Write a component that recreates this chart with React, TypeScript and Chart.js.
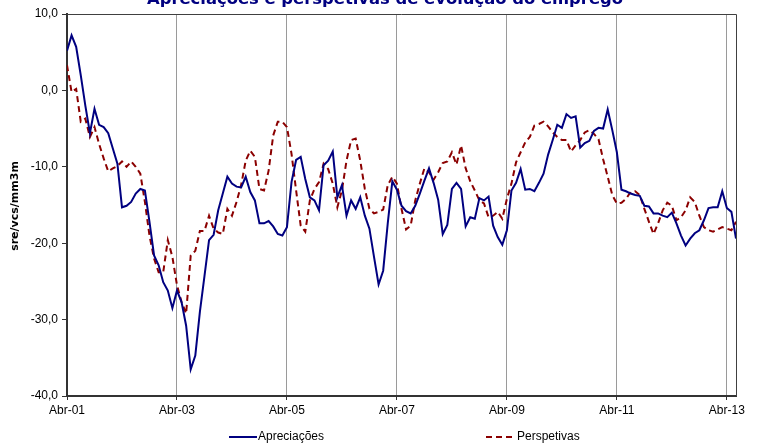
import React, { useEffect, useRef } from "react";
import { Chart, registerables } from "chart.js";

Chart.register(...registerables);

// Monthly series, Apr-2001 .. Jun-2013 (index 0 = Abr-01)
const apreciacoes: number[] = [
  5.2, 7.2, 5.7, 2.0, -2.0, -5.6, -2.4, -4.5, -4.8, -5.6,
  -7.6, -9.6, -15.3, -15.1, -14.6, -13.5, -12.9, -13.1, -17.2, -21.6,
  -22.9, -25.1, -26.2, -28.5, -26.2, -27.7, -30.8, -36.5, -34.7, -29.0,
  -24.3, -19.6, -18.9, -15.7, -13.5, -11.3, -12.2, -12.6, -12.7, -11.3,
  -13.3, -14.4, -17.4, -17.4, -17.1, -17.8, -18.8, -19.0, -17.9, -12.0,
  -9.1, -8.7, -11.6, -14.0, -14.4, -15.7, -9.8, -9.2, -8.0, -14.0,
  -12.4, -16.4, -14.4, -15.5, -14.0, -16.4, -18.1, -21.8, -25.4, -23.6,
  -17.4, -11.9, -13.0, -15.1, -15.8, -16.1, -15.1, -13.5, -11.8, -10.2,
  -12.1, -14.3, -18.8, -17.6, -12.9, -12.1, -12.9, -17.8, -16.6, -16.8,
  -14.1, -14.4, -13.9, -17.7, -19.2, -20.2, -18.3, -13.1, -12.1, -10.3,
  -13.0, -12.9, -13.2, -12.1, -10.9, -8.4, -6.5, -4.5, -4.9, -3.1,
  -3.6, -3.4, -7.5, -6.9, -6.6, -5.3, -4.9, -5.0, -2.5, -5.2,
  -8.1, -13.0, -13.2, -13.5, -13.7, -13.8, -15.1, -15.2, -16.1, -16.1,
  -16.4, -16.6, -16.0, -17.4, -19.0, -20.3, -19.4, -18.7, -18.3, -17.0,
  -15.4, -15.3, -15.3, -13.2, -15.4, -15.9, -19.4,
];

const perspetivas: number[] = [
  3.3, -0.2, 0.2, -4.1, -3.7, -6.1, -4.8, -7.0, -8.9, -10.6,
  -10.2, -9.9, -9.3, -10.0, -9.3, -10.0, -10.9, -14.6, -19.0, -22.0,
  -23.8, -23.8, -19.6, -21.8, -25.5, -27.7, -29.2, -21.6, -21.0, -18.4,
  -18.4, -16.4, -18.1, -18.6, -18.8, -15.5, -16.4, -14.6, -12.4, -9.2,
  -7.9, -8.7, -12.9, -13.1, -10.5, -5.9, -4.1, -4.1, -4.8, -8.3,
  -13.1, -17.7, -18.5, -14.4, -12.9, -12.0, -9.6, -10.3, -12.2, -15.3,
  -13.1, -9.2, -6.5, -6.3, -9.2, -12.9, -15.5, -16.1, -15.9, -15.6,
  -12.4, -11.3, -12.2, -15.5, -18.2, -17.7, -14.4, -12.2, -10.2, -10.7,
  -11.7, -10.7, -9.5, -9.3, -8.1, -9.7, -7.2, -10.2, -11.9, -13.1,
  -14.4, -14.8, -16.6, -16.4, -15.9, -16.8, -14.2, -12.2, -9.4, -8.1,
  -6.8, -6.1, -4.6, -4.4, -4.1, -4.7, -5.5, -6.1, -6.5, -6.5,
  -8.0, -7.2, -6.5, -5.5, -5.2, -5.7, -6.4, -9.0, -11.3, -13.7,
  -14.8, -14.7, -14.2, -13.3, -13.2, -13.7, -15.5, -17.2, -18.8, -17.4,
  -15.7, -14.7, -15.1, -17.0, -16.6, -15.7, -14.0, -14.6, -16.4, -17.9,
  -18.3, -18.5, -18.2, -17.9, -18.1, -18.3, -17.2,
];

const xTickMonths: number[] = [0, 24, 48, 72, 96, 120, 144];
const xTickLabels: string[] = ["Abr-01", "Abr-03", "Abr-05", "Abr-07", "Abr-09", "Abr-11", "Abr-13"];
const yTickValues: number[] = [-40, -30, -20, -10, 0, 10];

const seriesNames: string[] = ["Apreciações", "Perspetivas"];
const chartTitle = "Apreciações e perspetivas de evolução do emprego";
const yAxisTitle = "sre/vcs/mm3m";

const BLUE = "#000080";
const RED = "#8B0000";
const FONT = "'Liberation Sans', Arial, sans-serif";
const DASH = [6, 4];

const decorations = {
  id: "decorations",
  afterDraw(chart: any) {
    const ctx = chart.ctx as CanvasRenderingContext2D;
    const a = chart.chartArea;
    ctx.save();
    // frame top/right
    ctx.strokeStyle = "#404040";
    ctx.lineWidth = 1;
    ctx.beginPath();
    ctx.moveTo(a.left, a.top + 0.5);
    ctx.lineTo(a.right + 0.5, a.top + 0.5);
    ctx.lineTo(a.right + 0.5, a.bottom);
    ctx.stroke();

    // title (clipped at top)
    ctx.fillStyle = BLUE;
    ctx.font = "bold 16.4px 'DejaVu Sans', Verdana, sans-serif";
    ctx.textAlign = "center";
    ctx.textBaseline = "alphabetic";
    ctx.fillText(chartTitle, 385, 4);

    // y title
    ctx.save();
    ctx.translate(15, 206);
    ctx.rotate(-Math.PI / 2);
    ctx.fillStyle = "#000";
    ctx.font = "bold 11px 'DejaVu Sans', Verdana, sans-serif";
    ctx.textAlign = "center";
    ctx.textBaseline = "middle";
    ctx.fillText(yAxisTitle, 0, 0);
    ctx.restore();

    // legend
    const ly = 437;
    ctx.font = "12px " + FONT;
    ctx.textBaseline = "middle";
    ctx.textAlign = "left";
    ctx.lineWidth = 2;
    ctx.strokeStyle = BLUE;
    ctx.setLineDash([]);
    ctx.beginPath();
    ctx.moveTo(229, ly);
    ctx.lineTo(257, ly);
    ctx.stroke();
    ctx.fillStyle = "#000";
    ctx.fillText(seriesNames[0], 258, ly);

    ctx.strokeStyle = RED;
    ctx.setLineDash(DASH);
    ctx.beginPath();
    ctx.moveTo(486, ly);
    ctx.lineTo(515, ly);
    ctx.stroke();
    ctx.setLineDash([]);
    ctx.fillText(seriesNames[1], 517, ly);
    ctx.restore();
  },
};

export default function App() {
  const ref = useRef<HTMLCanvasElement | null>(null);
  useEffect(() => {
    if (!ref.current) return;
    const chart = new Chart(ref.current, {
      type: "line",
      data: {
        datasets: [
          {
            label: seriesNames[0],
            data: apreciacoes.map((v, i) => ({ x: i, y: v })),
            borderColor: BLUE,
            backgroundColor: BLUE,
            borderWidth: 2,
            pointRadius: 0,
            tension: 0,
            fill: false,
          },
          {
            label: seriesNames[1],
            data: perspetivas.map((v, i) => ({ x: i, y: v })),
            borderColor: RED,
            backgroundColor: RED,
            borderWidth: 2,
            borderDash: DASH,
            pointRadius: 0,
            tension: 0,
            fill: false,
          },
        ],
      },
      options: {
        animation: false,
        responsive: false,
        layout: { padding: { left: 0, top: 14, right: 25, bottom: 0 } },
        plugins: {
          legend: { display: false },
          title: { display: false },
          tooltip: { enabled: false },
        },
        scales: {
          x: {
            type: "linear",
            min: 0,
            max: apreciacoes.length - 1,
            afterFit: (s: any) => {
              s.height = 52;
            },
            afterBuildTicks: (s: any) => {
              s.ticks = xTickMonths.map((v) => ({ value: v }));
            },
            ticks: {
              autoSkip: false,
              maxRotation: 0,
              padding: 3,
              color: "#000",
              font: { family: FONT, size: 12 },
              callback: (v: any) => {
                const k = xTickMonths.indexOf(Number(v));
                return k >= 0 ? xTickLabels[k] : "";
              },
            },
            grid: {
              display: true,
              drawOnChartArea: true,
              drawTicks: true,
              tickLength: 4,
              color: "#9a9a9a",
              tickColor: "#333",
              lineWidth: 1,
            },
            border: { display: true, color: "#333", width: 2 },
          },
          y: {
            type: "linear",
            min: -40,
            max: 10,
            afterFit: (s: any) => {
              s.width = 67;
            },
            afterBuildTicks: (s: any) => {
              s.ticks = yTickValues.map((v) => ({ value: v }));
            },
            ticks: {
              padding: 4,
              color: "#000",
              font: { family: FONT, size: 12 },
              callback: (v: any) => Number(v).toFixed(1).replace(".", ","),
            },
            grid: {
              display: true,
              drawOnChartArea: false,
              drawTicks: true,
              tickLength: 5,
              color: "#333",
              tickColor: "#333",
            },
            border: { display: true, color: "#333", width: 2 },
          },
        },
      },
      plugins: [decorations],
    } as any);
    return () => chart.destroy();
  }, []);
  return (
    <div style={{ position: "fixed", left: 0, top: 0, width: 761, height: 448, background: "#fff" }}>
      <canvas ref={ref} width={761} height={448} style={{ display: "block", width: 761, height: 448 }} />
    </div>
  );
}
